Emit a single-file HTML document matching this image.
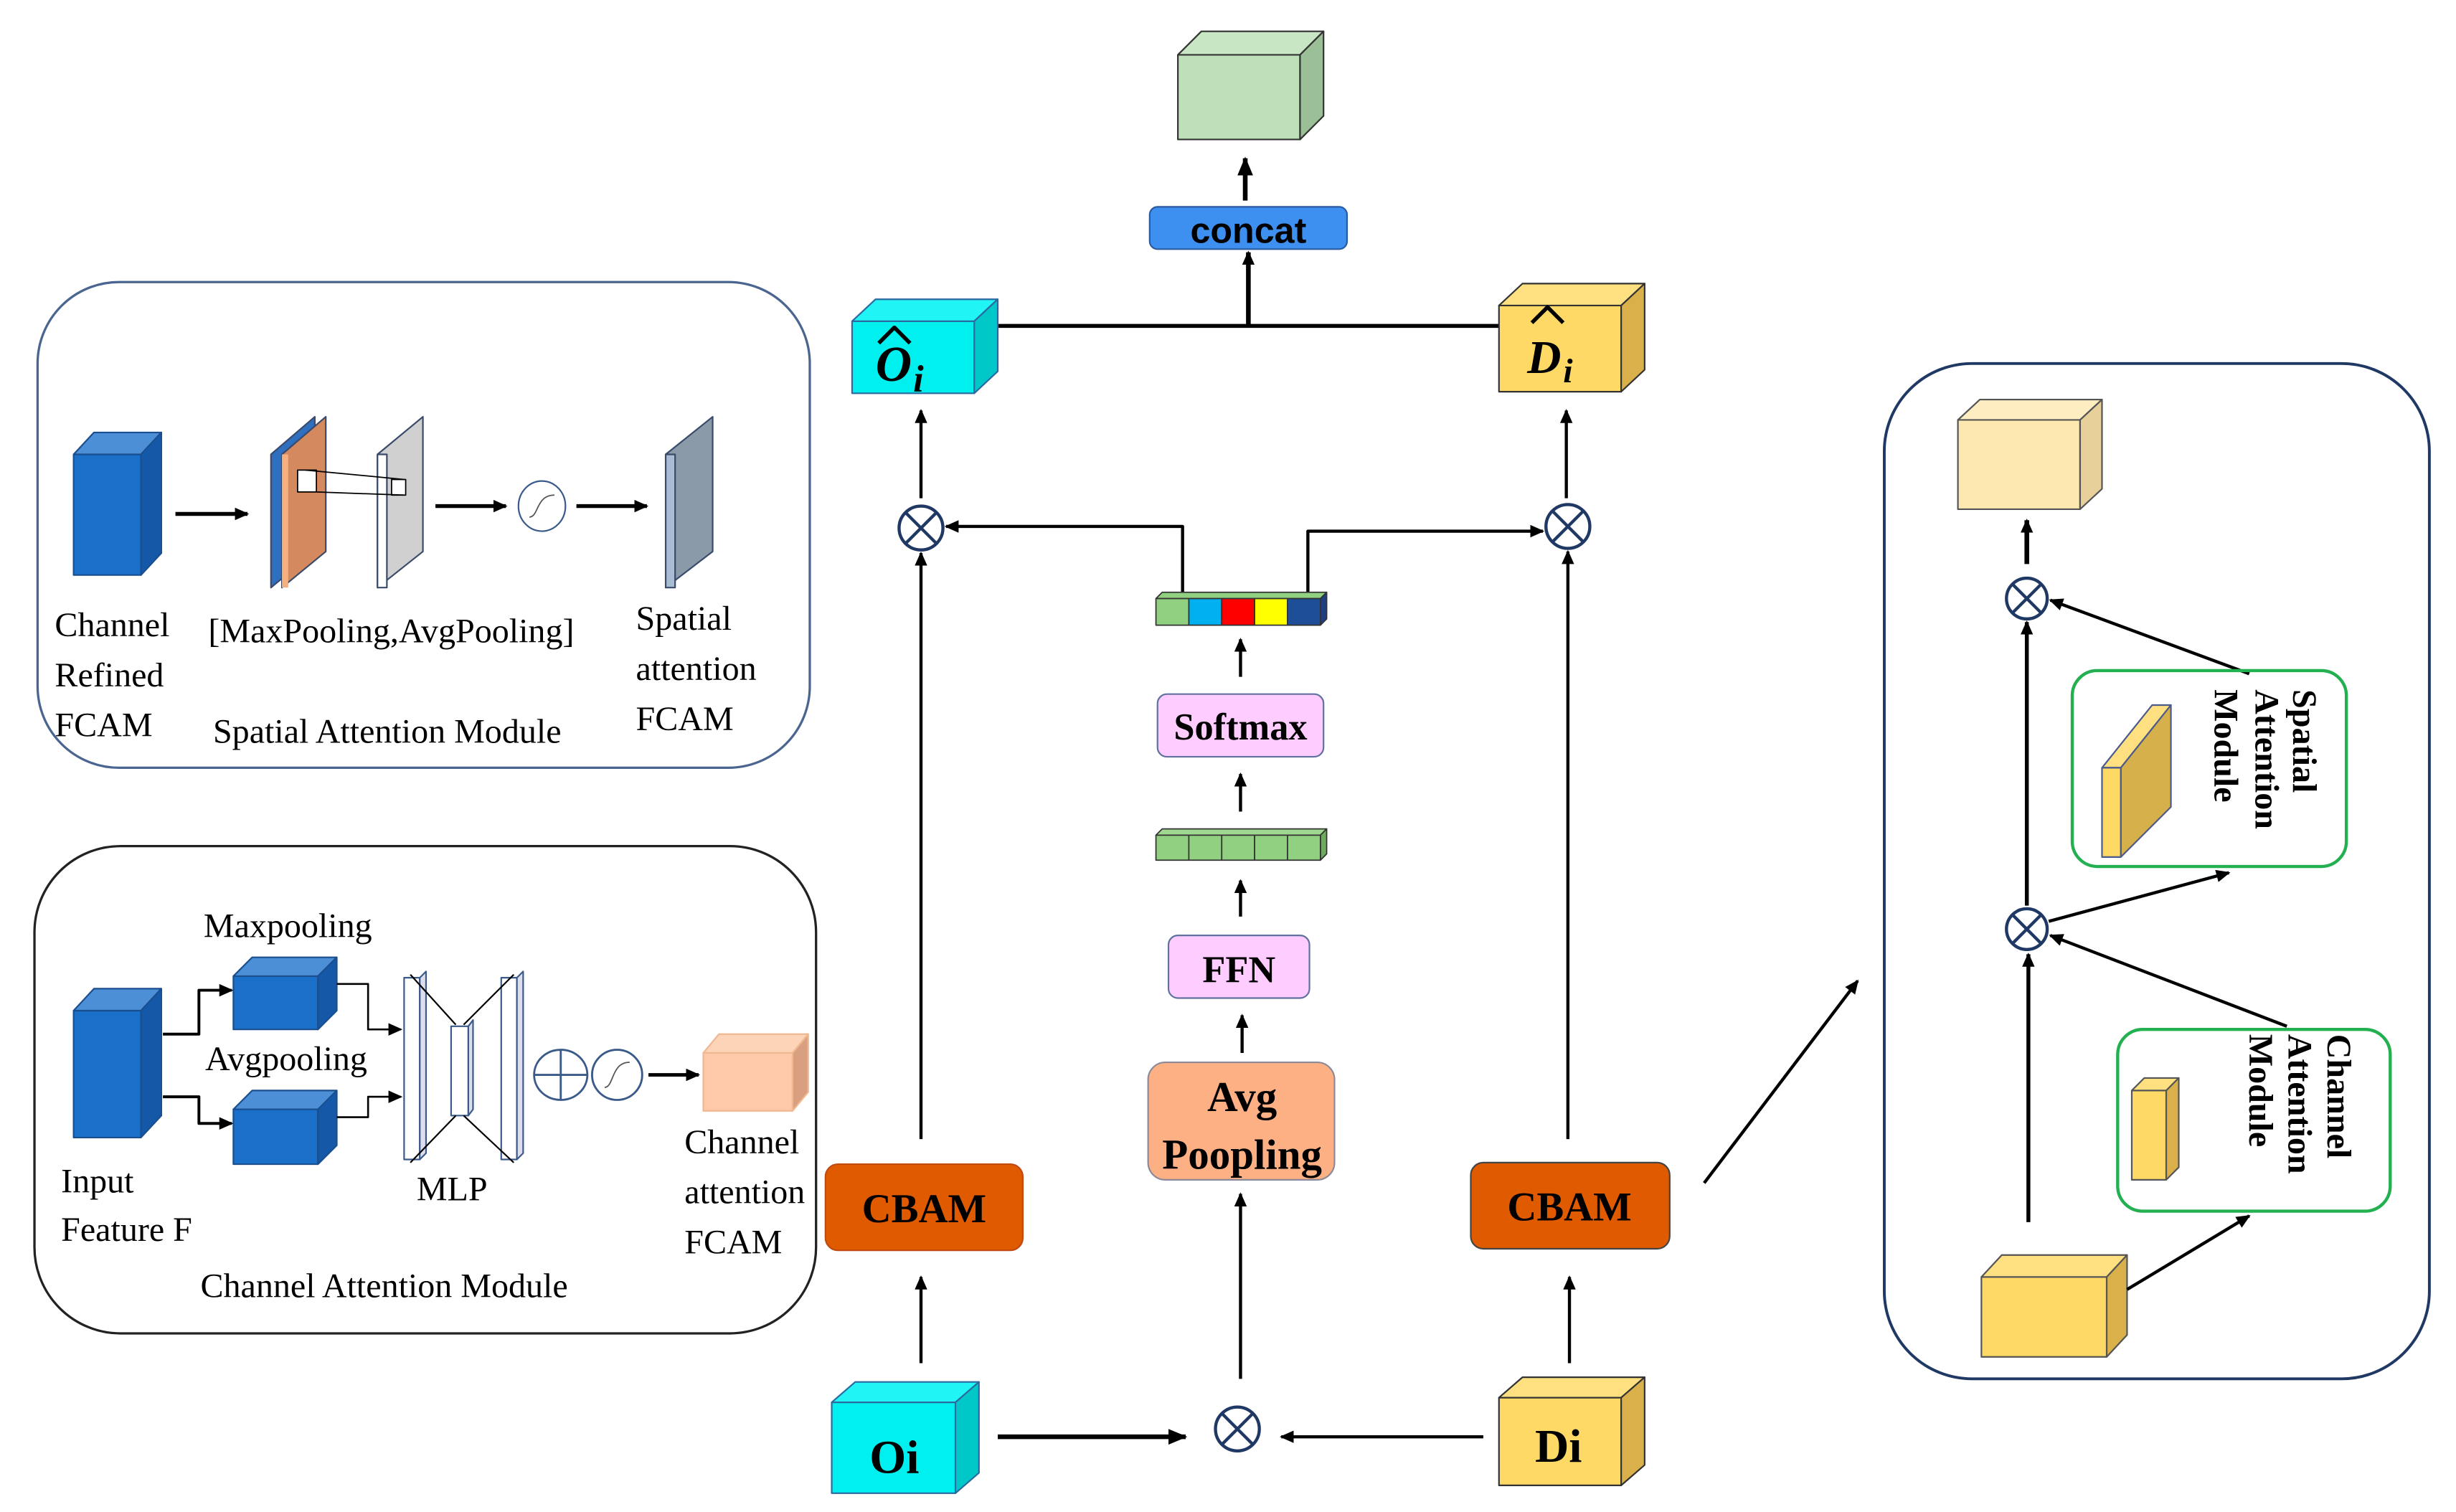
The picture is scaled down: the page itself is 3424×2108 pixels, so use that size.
<!DOCTYPE html>
<html><head><meta charset="utf-8"><style>
html,body{margin:0;padding:0;background:#fff;width:3424px;height:2108px;overflow:hidden}
svg{display:block}
.s{font-family:"Liberation Serif",serif}
</style></head><body>
<svg width="3424" height="2108" viewBox="0 0 1568 965" preserveAspectRatio="none" xmlns="http://www.w3.org/2000/svg">
<defs>
<marker id="a" markerUnits="userSpaceOnUse" markerWidth="12" markerHeight="10" refX="11" refY="5" orient="auto"><path d="M0,0 L12,5 L0,10 z" fill="#000"/></marker>
<marker id="b" markerUnits="userSpaceOnUse" markerWidth="9" markerHeight="8" refX="8" refY="4" orient="auto"><path d="M0,0 L9,4 L0,8 z" fill="#000"/></marker>
</defs>
<g stroke-linejoin="round">
<rect x="24" y="180" width="493" height="310" rx="52" fill="none" stroke="#4a6590" stroke-width="1.5"/>
<rect x="47" y="290" width="43" height="77" fill="#1a6fc9" stroke="#1a4f8f"/>
<polygon points="47,290 60,276 103,276 90,290" fill="#4d8fd6" stroke="#1a4f8f"/>
<polygon points="90,290 103,276 103,353 90,367" fill="#1558a8" stroke="#1a4f8f"/>
<line x1="112" y1="328" x2="158" y2="328" stroke="#000" stroke-width="2.5" marker-end="url(#b)"/>
<polygon points="173,290 201,266 201,352 173,375" fill="#2f6fc0" stroke="#3a4a6a"/>
<polygon points="180,290 208,266 208,352 180,375" fill="#d4895e" stroke="#3a4a6a"/>
<rect x="180" y="290" width="4" height="85" fill="#f5b080"/>
<polygon points="241,290 270,266 270,352 241,375" fill="#d0d0d0" stroke="#3a4a6a"/>
<rect x="241" y="290" width="6" height="85" fill="#fff" stroke="#3a4a6a"/>
<rect x="190" y="300" width="12" height="14" fill="#fff" stroke="#000" stroke-width="0.8"/>
<rect x="250" y="306" width="9" height="10" fill="#fff" stroke="#000" stroke-width="0.8"/>
<line x1="195" y1="300" x2="258" y2="306" stroke="#000" stroke-width="0.8"/>
<line x1="202" y1="314" x2="258" y2="316" stroke="#000" stroke-width="0.8"/>
<line x1="278" y1="323" x2="323" y2="323" stroke="#000" stroke-width="2.5" marker-end="url(#b)"/>
<ellipse cx="346" cy="323" rx="15" ry="16" fill="#fff" stroke="#3a5a8a"/>
<path d="M338,330 C344,330 342,316 354,316" fill="none" stroke="#555" stroke-width="0.8"/>
<line x1="368" y1="323" x2="413" y2="323" stroke="#000" stroke-width="2.5" marker-end="url(#b)"/>
<polygon points="425,290 455,266 455,352 425,375" fill="#8a9aa8" stroke="#3a4a6a"/>
<rect x="425" y="290" width="6" height="85" fill="#a8bcd4" stroke="#3a4a6a"/>
</g>
<g class="s" font-size="22" fill="#000">
<text x="35" y="406">Channel</text><text x="35" y="438">Refined</text><text x="35" y="470">FCAM</text>
<text x="133" y="410">[MaxPooling,AvgPooling]</text>
<text x="136" y="474">Spatial Attention Module</text>
<text x="406" y="402">Spatial</text><text x="406" y="434">attention</text><text x="406" y="466">FCAM</text>
</g>
<g stroke-linejoin="round">
<rect x="22" y="540" width="499" height="311" rx="55" fill="none" stroke="#222" stroke-width="1.5"/>
<rect x="47" y="645" width="43" height="81" fill="#1a6fc9" stroke="#1a4f8f"/>
<polygon points="47,645 60,631 103,631 90,645" fill="#4d8fd6" stroke="#1a4f8f"/>
<polygon points="90,645 103,631 103,712 90,726" fill="#1558a8" stroke="#1a4f8f"/>
<rect x="149" y="623" width="54" height="34" fill="#1a6fc9" stroke="#1a4f8f"/>
<polygon points="149,623 161,611 215,611 203,623" fill="#4d8fd6" stroke="#1a4f8f"/>
<polygon points="203,623 215,611 215,645 203,657" fill="#1558a8" stroke="#1a4f8f"/>
<rect x="149" y="708" width="54" height="35" fill="#1a6fc9" stroke="#1a4f8f"/>
<polygon points="149,708 161,696 215,696 203,708" fill="#4d8fd6" stroke="#1a4f8f"/>
<polygon points="203,708 215,696 215,731 203,743" fill="#1558a8" stroke="#1a4f8f"/>
<polyline points="104,660 127,660 127,632 148,632" fill="none" stroke="#000" stroke-width="1.8" marker-end="url(#b)"/>
<polyline points="104,700 127,700 127,717 148,717" fill="none" stroke="#000" stroke-width="1.8" marker-end="url(#b)"/>
<polyline points="215,628 235,628 235,657 256,657" fill="none" stroke="#000" stroke-width="1.2" marker-end="url(#b)"/>
<polyline points="215,713 235,713 235,700 256,700" fill="none" stroke="#000" stroke-width="1.2" marker-end="url(#b)"/>
<rect x="258" y="624" width="10" height="116" fill="#fff" stroke="#3a5a8a"/>
<polygon points="268,624 272,620 272,736 268,740" fill="#dde" stroke="#3a5a8a"/>
<rect x="288" y="655" width="11" height="57" fill="#fff" stroke="#3a5a8a"/>
<polygon points="299,655 302,651 302,708 299,712" fill="#dde" stroke="#3a5a8a"/>
<rect x="320" y="624" width="10" height="116" fill="#fff" stroke="#3a5a8a"/>
<polygon points="330,624 334,620 334,736 330,740" fill="#dde" stroke="#3a5a8a"/>
<line x1="262" y1="622" x2="291" y2="654" stroke="#000"/>
<line x1="296" y1="654" x2="328" y2="622" stroke="#000"/>
<line x1="262" y1="742" x2="291" y2="712" stroke="#000"/>
<line x1="296" y1="712" x2="328" y2="742" stroke="#000"/>
<ellipse cx="358" cy="686" rx="17" ry="16" fill="#fff" stroke="#3a5a8a" stroke-width="1.3"/>
<line x1="341" y1="686" x2="375" y2="686" stroke="#3a5a8a" stroke-width="1.3"/>
<line x1="358" y1="670" x2="358" y2="702" stroke="#3a5a8a" stroke-width="1.3"/>
<ellipse cx="394" cy="686" rx="16" ry="16" fill="#fff" stroke="#3a5a8a" stroke-width="1.3"/>
<path d="M386,694 C392,694 390,678 402,678" fill="none" stroke="#555" stroke-width="0.8"/>
<line x1="414" y1="686" x2="446" y2="686" stroke="#000" stroke-width="2.2" marker-end="url(#b)"/>
<rect x="449" y="672" width="57" height="37" fill="#fdc9a8" stroke="#f0b890"/>
<polygon points="449,672 459,660 516,660 506,672" fill="#fdd4b8" stroke="#f0b890"/>
<polygon points="506,672 516,660 516,697 506,709" fill="#d8a080" stroke="#f0b890"/>
</g>
<g class="s" font-size="22" fill="#000">
<text x="130" y="598">Maxpooling</text><text x="131" y="683">Avgpooling</text>
<text x="39" y="761">Input</text><text x="39" y="792">Feature F</text>
<text x="266" y="766">MLP</text>
<text x="437" y="736">Channel</text><text x="437" y="768">attention</text><text x="437" y="800">FCAM</text>
<text x="128" y="828">Channel Attention Module</text>
</g>
<g stroke-linejoin="round">
<rect x="752" y="35" width="78" height="54" fill="#bde0b8" stroke="#333"/>
<polygon points="752,35 767,20 845,20 830,35" fill="#c8e6c3" stroke="#333"/>
<polygon points="830,35 845,20 845,74 830,89" fill="#9bbf96" stroke="#333"/>
<line x1="795" y1="128" x2="795" y2="101" stroke="#000" stroke-width="3" marker-end="url(#a)"/>
<rect x="734" y="132" width="126" height="27" rx="5" fill="#3d8ff0" stroke="#2a5aa0"/>
<line x1="797" y1="208" x2="797" y2="161" stroke="#000" stroke-width="3" marker-end="url(#b)"/>
<line x1="637" y1="208" x2="957" y2="208" stroke="#000" stroke-width="2.5"/>
<rect x="544" y="205" width="78" height="46" fill="#00f0f0" stroke="#2a6aa0"/>
<polygon points="544,205 559,191 637,191 622,205" fill="#20f4f4" stroke="#2a6aa0"/>
<polygon points="622,205 637,191 637,237 622,251" fill="#00c8c8" stroke="#2a6aa0"/>
<rect x="957" y="195" width="78" height="55" fill="#ffd966" stroke="#333"/>
<polygon points="957,195 972,181 1050,181 1035,195" fill="#ffe080" stroke="#333"/>
<polygon points="1035,195 1050,181 1050,236 1035,250" fill="#d9b04a" stroke="#333"/>
<line x1="588" y1="318" x2="588" y2="262" stroke="#000" stroke-width="2" marker-end="url(#b)"/>
<line x1="1000" y1="318" x2="1000" y2="262" stroke="#000" stroke-width="2" marker-end="url(#b)"/>
<g stroke="#1f3864" stroke-width="2" fill="#fff">
<circle cx="588" cy="337" r="14"/><line x1="578" y1="327" x2="598" y2="347"/><line x1="598" y1="327" x2="578" y2="347"/>
<circle cx="1001" cy="336" r="14"/><line x1="991" y1="326" x2="1011" y2="346"/><line x1="1011" y1="326" x2="991" y2="346"/>
<circle cx="790" cy="912" r="14"/><line x1="780" y1="902" x2="800" y2="922"/><line x1="800" y1="902" x2="780" y2="922"/>
</g>
<polyline points="755,378 755,336 604,336" fill="none" stroke="#000" stroke-width="2" marker-end="url(#b)"/>
<polyline points="835,378 835,339 985,339" fill="none" stroke="#000" stroke-width="2" marker-end="url(#b)"/>
<polygon points="738,382 742,378 847,378 843,382" fill="#90d080" stroke="#333" stroke-width="0.8"/>
<polygon points="843,382 847,378 847,395 843,399" fill="#1f3f80" stroke="#333" stroke-width="0.8"/>
<rect x="738" y="382" width="21" height="17" fill="#90d080" stroke="#333" stroke-width="0.8"/>
<rect x="759" y="382" width="21" height="17" fill="#00b0f0" stroke="#333" stroke-width="0.8"/>
<rect x="780" y="382" width="21" height="17" fill="#ff0000" stroke="#333" stroke-width="0.8"/>
<rect x="801" y="382" width="21" height="17" fill="#ffff00" stroke="#333" stroke-width="0.8"/>
<rect x="822" y="382" width="21" height="17" fill="#1f4e99" stroke="#333" stroke-width="0.8"/>
<line x1="792" y1="432" x2="792" y2="408" stroke="#000" stroke-width="2" marker-end="url(#b)"/>
<rect x="739" y="443" width="106" height="40" rx="6" fill="#ffccff" stroke="#6070a0"/>
<line x1="792" y1="518" x2="792" y2="494" stroke="#000" stroke-width="2" marker-end="url(#b)"/>
<polygon points="738,533 742,529 847,529 843,533" fill="#a0d890" stroke="#333" stroke-width="0.8"/>
<polygon points="843,533 847,529 847,545 843,549" fill="#70a860" stroke="#333" stroke-width="0.8"/>
<rect x="738" y="533" width="21" height="16" fill="#90d080" stroke="#333" stroke-width="0.8"/>
<rect x="759" y="533" width="21" height="16" fill="#90d080" stroke="#333" stroke-width="0.8"/>
<rect x="780" y="533" width="21" height="16" fill="#90d080" stroke="#333" stroke-width="0.8"/>
<rect x="801" y="533" width="21" height="16" fill="#90d080" stroke="#333" stroke-width="0.8"/>
<rect x="822" y="533" width="21" height="16" fill="#90d080" stroke="#333" stroke-width="0.8"/>
<line x1="792" y1="585" x2="792" y2="562" stroke="#000" stroke-width="2" marker-end="url(#b)"/>
<rect x="746" y="597" width="90" height="40" rx="6" fill="#ffccff" stroke="#6070a0"/>
<line x1="793" y1="672" x2="793" y2="648" stroke="#000" stroke-width="2" marker-end="url(#b)"/>
<rect x="733" y="678" width="119" height="75" rx="11" fill="#fdb084" stroke="#8a8a9a"/>
<line x1="792" y1="880" x2="792" y2="762" stroke="#000" stroke-width="2" marker-end="url(#b)"/>
<rect x="531" y="895" width="79" height="58" fill="#00f0f0" stroke="#2a6aa0"/>
<polygon points="531,895 546,882 625,882 610,895" fill="#20f4f4" stroke="#2a6aa0"/>
<polygon points="610,895 625,882 625,940 610,953" fill="#00c8c8" stroke="#2a6aa0"/>
<rect x="957" y="892" width="78" height="56" fill="#ffd966" stroke="#333"/>
<polygon points="957,892 972,879 1050,879 1035,892" fill="#ffe080" stroke="#333"/>
<polygon points="1035,892 1050,879 1050,935 1035,948" fill="#d9b04a" stroke="#333"/>
<line x1="637" y1="917" x2="757" y2="917" stroke="#000" stroke-width="3" marker-end="url(#a)"/>
<line x1="947" y1="917" x2="818" y2="917" stroke="#000" stroke-width="2" marker-end="url(#b)"/>
<rect x="527" y="743" width="126" height="55" rx="8" fill="#e05a00" stroke="#c04a10"/>
<line x1="588" y1="870" x2="588" y2="815" stroke="#000" stroke-width="2" marker-end="url(#b)"/>
<line x1="588" y1="727" x2="588" y2="353" stroke="#000" stroke-width="2" marker-end="url(#b)"/>
<rect x="939" y="742" width="127" height="55" rx="8" fill="#e05a00" stroke="#444"/>
<line x1="1002" y1="870" x2="1002" y2="815" stroke="#000" stroke-width="2" marker-end="url(#b)"/>
<line x1="1001" y1="727" x2="1001" y2="352" stroke="#000" stroke-width="2" marker-end="url(#b)"/>
<line x1="1088" y1="755" x2="1186" y2="626" stroke="#000" stroke-width="2" marker-end="url(#b)"/>
<path d="M561,219 L571,209 L581,219" fill="none" stroke="#000" stroke-width="2.5"/>
<path d="M978,206 L988,196 L998,206" fill="none" stroke="#000" stroke-width="2.5"/>
</g>
<g font-weight="bold" fill="#000">
<text x="797" y="155" text-anchor="middle" font-family="Liberation Sans,sans-serif" font-size="23">concat</text>
<text x="792" y="472" text-anchor="middle" class="s" font-size="24">Softmax</text>
<text x="791" y="627" text-anchor="middle" class="s" font-size="24">FFN</text>
<text x="793" y="709" text-anchor="middle" class="s" font-size="27">Avg</text>
<text x="793" y="746" text-anchor="middle" class="s" font-size="27">Poopling</text>
<text x="590" y="780" text-anchor="middle" class="s" font-size="26">CBAM</text>
<text x="1002" y="779" text-anchor="middle" class="s" font-size="26">CBAM</text>
<text x="571" y="940" text-anchor="middle" class="s" font-size="30">Oi</text>
<text x="995" y="933" text-anchor="middle" class="s" font-size="30">Di</text>
<text x="559" y="243" class="s" font-size="32" font-style="italic">O</text>
<text x="583" y="250" class="s" font-size="24" font-style="italic">i</text>
<text x="975" y="238" class="s" font-size="30" font-style="italic">D</text>
<text x="998" y="244" class="s" font-size="22" font-style="italic">i</text>
</g>
<g stroke-linejoin="round">
<rect x="1203" y="232" width="348" height="648" rx="56" fill="none" stroke="#1f3864" stroke-width="1.8"/>
<rect x="1250" y="268" width="78" height="57" fill="#fde9b0" stroke="#555"/>
<polygon points="1250,268 1264,255 1342,255 1328,268" fill="#fdedc0" stroke="#555"/>
<polygon points="1328,268 1342,255 1342,312 1328,325" fill="#e8d09a" stroke="#555"/>
<line x1="1294" y1="360" x2="1294" y2="332" stroke="#000" stroke-width="3" marker-end="url(#b)"/>
<g stroke="#1f3864" stroke-width="2" fill="#fff">
<circle cx="1294" cy="382" r="13"/><line x1="1285" y1="373" x2="1303" y2="391"/><line x1="1303" y1="373" x2="1285" y2="391"/>
<circle cx="1294" cy="593" r="13"/><line x1="1285" y1="584" x2="1303" y2="602"/><line x1="1303" y1="584" x2="1285" y2="602"/>
</g>
<line x1="1436" y1="430" x2="1309" y2="383" stroke="#000" stroke-width="2" marker-end="url(#b)"/>
<rect x="1323" y="428" width="175" height="125" rx="16" fill="none" stroke="#22b050" stroke-width="2"/>
<polygon points="1342,490 1374,450 1386,450 1354,490" fill="#ffe080" stroke="#4a5a8a"/>
<polygon points="1354,490 1386,450 1386,515 1354,547" fill="#d6b04a" stroke="#4a5a8a"/>
<rect x="1342" y="490" width="12" height="57" fill="#ffd966" stroke="#4a5a8a"/>
<line x1="1294" y1="578" x2="1294" y2="397" stroke="#000" stroke-width="2.5" marker-end="url(#b)"/>
<line x1="1308" y1="588" x2="1423" y2="557" stroke="#000" stroke-width="2" marker-end="url(#b)"/>
<line x1="1460" y1="655" x2="1309" y2="597" stroke="#000" stroke-width="2" marker-end="url(#b)"/>
<rect x="1352" y="657" width="174" height="116" rx="16" fill="none" stroke="#22b050" stroke-width="2"/>
<rect x="1361" y="696" width="22" height="57" fill="#ffd966" stroke="#555"/>
<polygon points="1361,696 1369,688 1391,688 1383,696" fill="#ffe080" stroke="#555"/>
<polygon points="1383,696 1391,688 1391,745 1383,753" fill="#d9b04a" stroke="#555"/>
<rect x="1265" y="815" width="80" height="51" fill="#ffd966" stroke="#555"/>
<polygon points="1265,815 1278,801 1358,801 1345,815" fill="#ffe080" stroke="#555"/>
<polygon points="1345,815 1358,801 1358,852 1345,866" fill="#d9b04a" stroke="#555"/>
<line x1="1295" y1="780" x2="1295" y2="609" stroke="#000" stroke-width="2.5" marker-end="url(#b)"/>
<line x1="1358" y1="823" x2="1436" y2="776" stroke="#000" stroke-width="2" marker-end="url(#b)"/>
</g>
<g class="s" font-weight="bold" font-size="22" fill="#000">
<text transform="translate(1464,440) rotate(90)">Spatial</text>
<text transform="translate(1440,440) rotate(90)">Attention</text>
<text transform="translate(1414,440) rotate(90)">Module</text>
<text transform="translate(1486,660) rotate(90)">Channel</text>
<text transform="translate(1461,660) rotate(90)">Attention</text>
<text transform="translate(1436,660) rotate(90)">Module</text>
</g>
</svg>
</body></html>
